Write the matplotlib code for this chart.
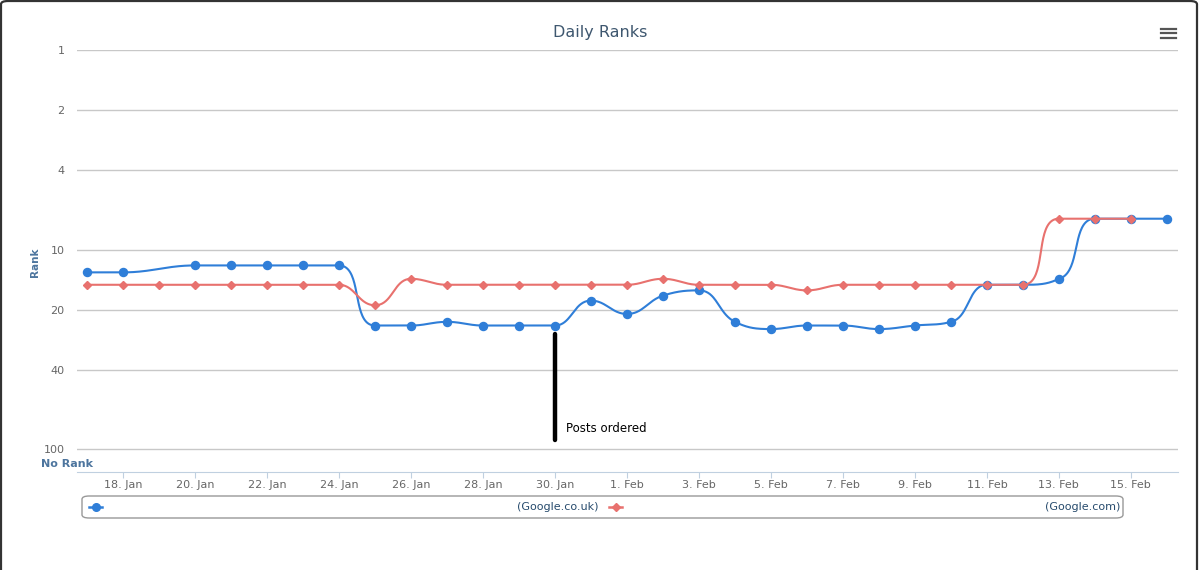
import datetime as dt
import numpy as np
import matplotlib
matplotlib.use("Agg")
import matplotlib.pyplot as plt
import matplotlib.dates as mdates
from matplotlib.patches import FancyBboxPatch
from matplotlib.lines import Line2D

# ---------------- data ----------------
start = dt.datetime(2015, 1, 17)
dates = [start + dt.timedelta(days=i) for i in range(31)]
uk_rank = [13, 13, None, 12, 12, 12, 12, 12,
           24, 24, 23, 24, 24, 24, 18,
           21, 17, 16, 23, 25, 24, 24, 25, 24, 23,
           15, 15, 14, 7, 7, 7]
com_rank = [15, 15, 15, 15, 15, 15, 15, 15,
            19, 14, 15, 15, 15, 15, 15,
            15, 14, 15, 15, 15, 16, 15, 15, 15, 15,
            15, 15, 7, 7, 7, None]
series_names = ["(Google.co.uk)", "(Google.com)"]
y_ticks = [1, 2, 4, 10, 20, 40, 100]
annot_date = dt.datetime(2015, 1, 30)
annot_text = "Posts ordered"

BLUE = "#2f7ed8"
RED = "#e8716e"

W, H = 1200, 570
fig = plt.figure(figsize=(W / 100, H / 100), dpi=100)
fig.patch.set_facecolor("white")

def fx(px):
    return px / W

def fy(py):
    return 1 - py / H

ax = fig.add_axes([fx(77), fy(472), fx(1178) - fx(77), fy(50) - fy(472)])
ax.set_yscale("log")
ax.set_ylim(130, 1)
x0 = mdates.date2num(start)
ax.set_xlim(x0 - 0.28, x0 + 30.31)

# Highcharts-like spline in pixel space
XS, YS = 36.0, 199.5

def spline(xs, ys, n=40):
    px = np.array(xs) * XS
    py = np.log10(np.array(ys, dtype=float)) * YS
    m = len(px)
    lc = [None] * m
    rc = [None] * m
    sm = 1.5
    den = sm + 1
    for i in range(m):
        if 0 < i < m - 1:
            lx = (sm * px[i] + px[i - 1]) / den
            ly = (sm * py[i] + py[i - 1]) / den
            rx = (sm * px[i] + px[i + 1]) / den
            ry = (sm * py[i] + py[i + 1]) / den
            dl = np.hypot(lx - px[i], ly - py[i])
            dr = np.hypot(rx - px[i], ry - py[i])
            la = np.arctan2(ly - py[i], lx - px[i])
            ra = np.arctan2(ry - py[i], rx - px[i])
            ja = np.pi / 2 + (la + ra) / 2
            if abs(la - ja) > np.pi / 2:
                ja -= np.pi
            lx = px[i] + np.cos(ja) * dl
            ly = py[i] + np.sin(ja) * dl
            rx = px[i] + np.cos(np.pi + ja) * dr
            ry = py[i] + np.sin(np.pi + ja) * dr
            if ly > py[i - 1] and ly > py[i]:
                ly = max(py[i - 1], py[i]); ry = 2 * py[i] - ly
            elif ly < py[i - 1] and ly < py[i]:
                ly = min(py[i - 1], py[i]); ry = 2 * py[i] - ly
            if ry > py[i + 1] and ry > py[i]:
                ry = max(py[i + 1], py[i]); ly = 2 * py[i] - ry
            elif ry < py[i + 1] and ry < py[i]:
                ry = min(py[i + 1], py[i]); ly = 2 * py[i] - ry
            lc[i] = (lx, ly)
            rc[i] = (rx, ry)
        else:
            lc[i] = (px[i], py[i])
            rc[i] = (px[i], py[i])
    outx, outy = [px[0]], [py[0]]
    t = np.linspace(0, 1, n)[1:]
    for i in range(1, m):
        p0 = np.array([px[i - 1], py[i - 1]])
        p1 = np.array(rc[i - 1])
        p2 = np.array(lc[i])
        p3 = np.array([px[i], py[i]])
        b = ((1 - t) ** 3)[:, None] * p0 + (3 * (1 - t) ** 2 * t)[:, None] * p1 \
            + (3 * (1 - t) * t ** 2)[:, None] * p2 + (t ** 3)[:, None] * p3
        outx.extend(b[:, 0]); outy.extend(b[:, 1])
    return np.array(outx) / XS, 10 ** (np.array(outy) / YS)

def draw(vals, color, marker, ms, z):
    xs = [mdates.date2num(d) - x0 for d, v in zip(dates, vals) if v is not None]
    ys = [v for v in vals if v is not None]
    sx, sy = spline(xs, ys)
    ax.plot(sx + x0, sy, color=color, lw=1.5, zorder=z, solid_capstyle="round")
    ax.plot(np.array(xs) + x0, ys, linestyle="none", marker=marker, ms=ms,
            color=color, zorder=z + 0.5)

draw(uk_rank, BLUE, "o", 5.8, 3)
draw(com_rank, RED, "D", 3.8, 4)

# axes styling
ax.set_yticks(y_ticks)
ax.set_yticklabels([str(v) for v in y_ticks])
ax.yaxis.set_minor_locator(matplotlib.ticker.NullLocator())
ax.grid(axis="y", color="#c8c8c8", lw=1)
ax.set_axisbelow(True)
for s in ["top", "right", "left"]:
    ax.spines[s].set_visible(False)
ax.spines["bottom"].set_color("#c0d0e0")
ax.tick_params(axis="y", length=0, pad=9, labelsize=8, labelcolor="#666666")
ax.set_xticks([mdates.date2num(d) for d in dates[1::2]])
ax.xaxis.set_major_formatter(mdates.DateFormatter("%-d. %b"))
ax.tick_params(axis="x", length=4, color="#c0d0e0", pad=2, labelsize=8, labelcolor="#666666")

# annotation
ad = mdates.date2num(annot_date)
ax.plot([ad, ad], [26.5, 90], color="black", lw=3.2, solid_capstyle="round", zorder=5)
ax.annotate(annot_text, xy=(ad, 79), xytext=(8, 0), textcoords="offset points",
            va="center", ha="left", fontsize=8.5, color="black")

# texts
fig.text(0.5, fy(32), "Daily Ranks", ha="center", va="center", fontsize=11.5, color="#3e576f")
fig.text(fx(35), fy(262), "Rank", rotation=90, ha="center", va="center",
         fontsize=7.5, fontweight="bold", color="#4d759e")
fig.text(fx(41), fy(464), "No Rank", ha="left", va="center",
         fontsize=8, fontweight="bold", color="#4d759e")

# legend box
leg = FancyBboxPatch((fx(82), fy(518)), fx(1123) - fx(82), fy(496) - fy(518),
                     boxstyle="round,pad=0,rounding_size=0.006", mutation_aspect=H / W * 2,
                     transform=fig.transFigure, facecolor="white", edgecolor="#999999", lw=1)
fig.add_artist(leg)
ly = fy(507)
fig.add_artist(Line2D([fx(89), fx(102)], [ly, ly], color=BLUE, lw=1.8, transform=fig.transFigure))
fig.add_artist(Line2D([fx(95.5)], [ly], color=BLUE, marker="o", ms=5.5, transform=fig.transFigure))
fig.text(fx(598), ly, series_names[0], ha="right", va="center", fontsize=8, color="#274b6d")
fig.add_artist(Line2D([fx(609), fx(622)], [ly, ly], color=RED, lw=1.8, transform=fig.transFigure))
fig.add_artist(Line2D([fx(615.5)], [ly], color=RED, marker="D", ms=3.8, transform=fig.transFigure))
fig.text(fx(1120), ly, series_names[1], ha="right", va="center", fontsize=8, color="#274b6d")

# menu icon
for yy in (28.8, 33.4, 38.0):
    fig.add_artist(Line2D([fx(1161), fx(1175.5)], [fy(yy), fy(yy)], color="#555555", lw=1.6,
                          transform=fig.transFigure))

# card border
card = FancyBboxPatch((fx(1), fy(640)), fx(1197) - fx(1), fy(1) - fy(640),
                      boxstyle="round,pad=0,rounding_size=0.006", mutation_aspect=H / W * 2,
                      transform=fig.transFigure, facecolor="none", edgecolor="#333333", lw=1.6,
                      clip_on=False)
fig.add_artist(card)

fig.savefig("out.png", dpi=100, facecolor="white")
